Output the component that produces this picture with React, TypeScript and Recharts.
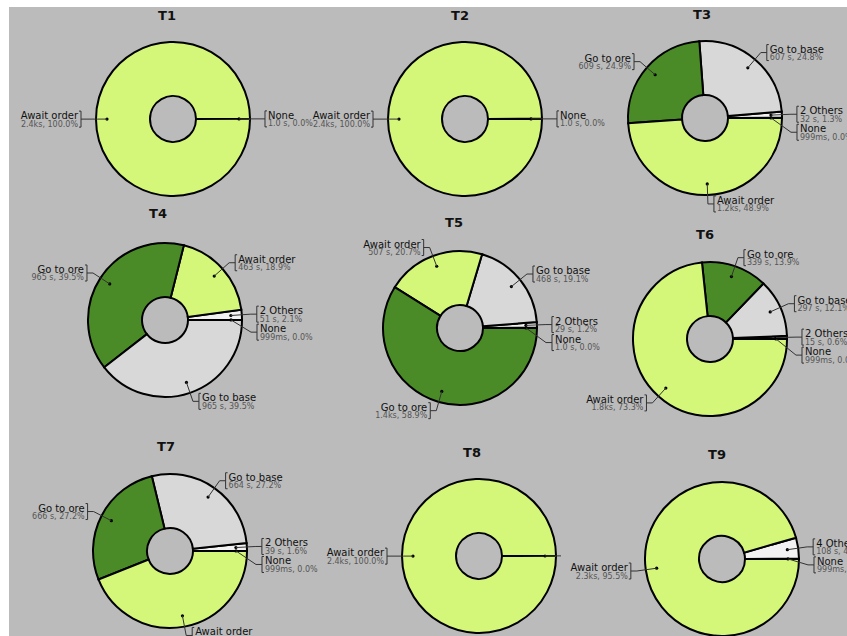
import React from 'react';
import { PieChart, Pie, Cell } from 'recharts';

// ---- Data (counter-clockwise from 3 o'clock) ----
const t1Names = ['None', 'Await order'];
const t1Values = [1.0, 2400];
const t1Details = ['1.0 s, 0.0%', '2.4ks, 100.0%'];

const t2Names = ['None', 'Await order'];
const t2Values = [1.0, 2400];
const t2Details = ['1.0 s, 0.0%', '2.4ks, 100.0%'];

const t3Names = ['None', '2 Others', 'Go to base', 'Go to ore', 'Await order'];
const t3Values = [0.999, 32, 607, 609, 1196];
const t3Details = ['999ms, 0.0%', '32 s, 1.3%', '607 s, 24.8%', '609 s, 24.9%', '1.2ks, 48.9%'];

const t4Names = ['None', '2 Others', 'Await order', 'Go to ore', 'Go to base'];
const t4Values = [0.999, 51, 463, 965, 965];
const t4Details = ['999ms, 0.0%', '51 s, 2.1%', '463 s, 18.9%', '965 s, 39.5%', '965 s, 39.5%'];

const t5Names = ['None', '2 Others', 'Go to base', 'Await order', 'Go to ore'];
const t5Values = [1.0, 29, 468, 507, 1440];
const t5Details = ['1.0 s, 0.0%', '29 s, 1.2%', '468 s, 19.1%', '507 s, 20.7%', '1.4ks, 58.9%'];

const t6Names = ['None', '2 Others', 'Go to base', 'Go to ore', 'Await order'];
const t6Values = [0.999, 15, 297, 339, 1793];
const t6Details = ['999ms, 0.0%', '15 s, 0.6%', '297 s, 12.1%', '339 s, 13.9%', '1.8ks, 73.3%'];

const t7Names = ['None', '2 Others', 'Go to base', 'Go to ore', 'Await order'];
const t7Values = [0.999, 39, 664, 666, 1075];
const t7Details = ['999ms, 0.0%', '39 s, 1.6%', '664 s, 27.2%', '666 s, 27.2%', '1.1ks, 44.0%'];

const t8Names = ['None', 'Await order'];
const t8Values = [1.0, 2400];
const t8Details = ['', '2.4ks, 100.0%'];

const t9Names = ['None', '4 Others', 'Await order'];
const t9Values = [0.999, 108, 2336];
const t9Details = ['999ms, 0.0%', '108 s, 4.4%', '2.3ks, 95.5%'];

const titles = ['T1', 'T2', 'T3', 'T4', 'T5', 'T6', 'T7', 'T8', 'T9'];

// ---- Styling / layout ----
const COLORS: Record<string, string> = {
  'Await order': '#d4f77a',
  'Go to ore': '#4a8b27',
  'Go to base': '#d8d8d8',
  '2 Others': '#f2f2f2',
  '4 Others': '#f2f2f2',
  None: '#ffffff',
};
const FONT = '"DejaVu Sans", Verdana, sans-serif';
const OX = 9;
const OY = 7;
const W = 838;
const H = 629;
const INNER = 23;
const OUTER = 77;

// page-coordinate centres and title positions
const panels = [
  { names: t1Names, values: t1Values, details: t1Details, cx: 168, cy: 114, tx: 167, ty: 20 },
  { names: t2Names, values: t2Values, details: t2Details, cx: 460, cy: 114, tx: 460, ty: 20 },
  { names: t3Names, values: t3Values, details: t3Details, cx: 700, cy: 113, tx: 702, ty: 19 },
  { names: t4Names, values: t4Values, details: t4Details, cx: 160, cy: 315, tx: 158, ty: 218 },
  { names: t5Names, values: t5Values, details: t5Details, cx: 455, cy: 323, tx: 454, ty: 227 },
  { names: t6Names, values: t6Values, details: t6Details, cx: 705, cy: 334, tx: 705, ty: 239 },
  { names: t7Names, values: t7Values, details: t7Details, cx: 165, cy: 546, tx: 166, ty: 451 },
  { names: t8Names, values: t8Values, details: t8Details, cx: 474, cy: 551, tx: 472, ty: 457 },
  { names: t9Names, values: t9Values, details: t9Details, cx: 717, cy: 554, tx: 717, ty: 459 },
];

type LabelPos = { dx: number; dy: number; ex: number; y: number; bx: number; side: number };

function computeLayout(values: number[], details: string[], cx: number, cy: number, R: number): LabelPos[] {
  const total = values.reduce((a, b) => a + b, 0);
  let start = 0;
  const out: LabelPos[] = values.map((v) => {
    const span = (360 * v) / total;
    const mid = start + span / 2;
    start += span;
    const rad = (mid * Math.PI) / 180;
    const c = Math.cos(rad);
    const s = Math.sin(rad);
    const side = c >= 0 ? 1 : -1;
    const ex = cx + (R + 9) * c;
    const ey = cy - (R + 9) * s;
    return { dx: cx + (R - 11) * c, dy: cy - (R - 11) * s, ex, y: ey, bx: ex + side * 6, side };
  });
  [1, -1].forEach((side) => {
    const idx = out
      .map((p, i) => i)
      .filter((i) => out[i].side === side && details[i] !== '')
      .sort((a, b) => out[a].y - out[b].y);
    for (let k = 1; k < idx.length; k++) {
      const prev = out[idx[k - 1]].y;
      if (out[idx[k]].y < prev + 18) out[idx[k]].y = prev + 18;
    }
  });
  return out;
}

function makeLabel(names: string[], values: number[], details: string[]) {
  return (props: any) => {
    const { cx, cy, outerRadius, index } = props;
    const lay = computeLayout(values, details, cx, cy, outerRadius);
    const p = lay[index];
    if (!p) return null;
    if (details[index] === '') {
      return (
        <g>
          <circle cx={p.dx} cy={p.dy} r={1.5} fill="#000" />
          <polyline points={`${p.dx},${p.dy} ${p.ex - 4},${p.y}`} fill="none" stroke="#333" strokeWidth={1} />
        </g>
      );
    }
    const s = p.side;
    return (
      <g>
        <circle cx={p.dx} cy={p.dy} r={1.6} fill="#000" />
        <polyline
          points={`${p.dx},${p.dy} ${p.ex},${p.y} ${p.bx},${p.y}`}
          fill="none"
          stroke="#333"
          strokeWidth={1}
        />
        <path
          d={`M${p.bx + s * 2},${p.y - 8} L${p.bx},${p.y - 8} L${p.bx},${p.y + 8} L${p.bx + s * 2},${p.y + 8}`}
          fill="none"
          stroke="#333"
          strokeWidth={1}
        />
        <text x={p.bx + s * 3} y={p.y} textAnchor={s > 0 ? 'start' : 'end'} fontSize={10} fill="#111" fontFamily={FONT}>
          {names[index]}
        </text>
        <text x={p.bx + s * 3} y={p.y + 7.5} textAnchor={s > 0 ? 'start' : 'end'} fontSize={8} fill="#555" fontFamily={FONT}>
          {details[index]}
        </text>
      </g>
    );
  };
}

export default function App() {
  return (
    <div style={{ position: 'fixed', left: OX, top: OY, width: W, height: H, background: '#bbbbbb', overflow: 'hidden' }}>
      <PieChart width={W} height={H}>
        {panels.map((pnl, pi) => {
          const data = pnl.names.map((n, i) => ({ name: n, value: pnl.values[i] }));
          return (
            <Pie
              key={pi}
              data={data}
              dataKey="value"
              nameKey="name"
              cx={pnl.cx - OX}
              cy={pnl.cy - OY}
              innerRadius={INNER}
              outerRadius={OUTER}
              startAngle={0}
              endAngle={360}
              isAnimationActive={false}
              labelLine={false}
              label={makeLabel(pnl.names, pnl.values, pnl.details)}
            >
              {data.map((d, i) => (
                <Cell key={i} fill={COLORS[d.name]} stroke="#000" strokeWidth={2} />
              ))}
            </Pie>
          );
        })}
      </PieChart>
      <svg width={W} height={H} style={{ position: 'absolute', left: 0, top: 0, pointerEvents: 'none' }}>
        {panels.map((pnl, pi) => (
          <text
            key={pi}
            x={pnl.tx - OX}
            y={pnl.ty - OY}
            textAnchor="middle"
            fontSize={13}
            fontWeight="bold"
            fill="#111"
            fontFamily={FONT}
          >
            {titles[pi]}
          </text>
        ))}
      </svg>
    </div>
  );
}
